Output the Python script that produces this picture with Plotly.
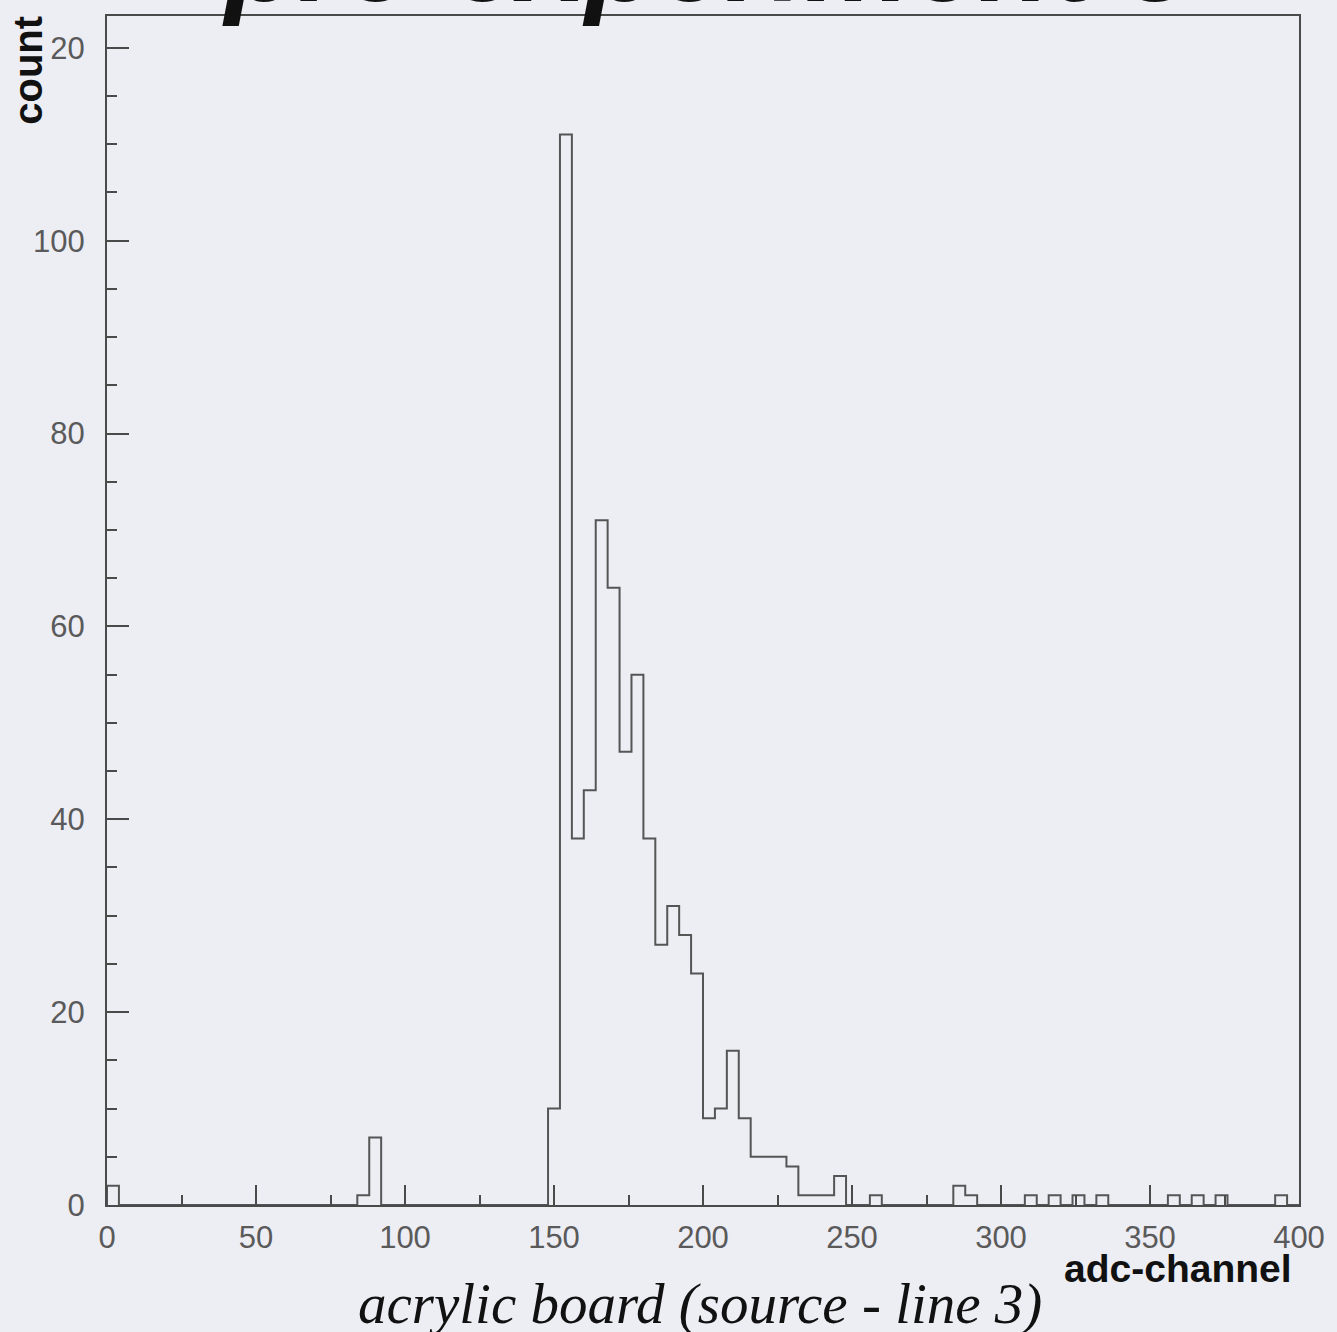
import plotly.graph_objects as go

# ---- data ----
bin_width = 4
x_min, x_max = 0, 400
# left edges of the non-empty bins and their counts
bin_left = [0, 84, 88, 148, 152, 156, 160, 164, 168, 172, 176, 180, 184, 188,
            192, 196, 200, 204, 208, 212, 216, 220, 224, 228, 232, 236, 240,
            244, 256, 284, 288, 308, 316, 324, 332, 356, 364, 372, 392]
bin_count = [2, 1, 7, 10, 111, 38, 43, 71, 64, 47, 55, 38, 27, 31,
             28, 24, 9, 10, 16, 9, 5, 5, 5, 4, 1, 1, 1,
             3, 1, 2, 1, 1, 1, 1, 1, 1, 1, 1, 1]

x_ticks = [0, 50, 100, 150, 200, 250, 300, 350, 400]
y_ticks = [0, 20, 40, 60, 80, 100, 120]

title_text = "pre-experiment 3"
x_title = "adc-channel"
y_title = "count"
caption = "acrylic board (source - line 3)"

# ---- build full histogram outline ----
n_bins = (x_max - x_min) // bin_width
edges = [x_min + i * bin_width for i in range(n_bins)]
lookup = dict(zip(bin_left, bin_count))
counts = [lookup.get(e, 0) for e in edges]
xs = [x_min] + edges + [x_max]
ys = [0] + counts + [0]

BG = "#EDEDF4"
LINE = "#4a4a4a"
TICKFONT = dict(family="Liberation Sans, Arial, sans-serif", size=31, color="#5a5a5a")

fig = go.Figure()
fig.add_trace(go.Scatter(
    x=xs, y=ys, mode="lines", line=dict(shape="hv", color="#555555", width=2),
    hoverinfo="skip", showlegend=False))

W, H = 1337, 1332
L, R, T, B = 107, 26, 16, 127

fig.update_layout(
    width=W, height=H,
    margin=dict(l=L, r=R, t=T, b=B),
    paper_bgcolor=BG, plot_bgcolor=BG,
    showlegend=False,
)
fig.update_xaxes(
    range=[x_min, x_max], tickvals=x_ticks, ticktext=[str(v) for v in x_ticks],
    ticks="inside", ticklen=20, tickwidth=2, tickcolor=LINE,
    minor=dict(dtick=25, tick0=0, ticks="inside", ticklen=10, tickwidth=2, tickcolor=LINE),
    showline=True, linecolor=LINE, linewidth=2, mirror=True,
    showgrid=False, zeroline=False, tickfont=TICKFONT, ticklabelstandoff=4,
    ticklabeloverflow="allow",
)
fig.update_yaxes(
    range=[0, 123.3], tickvals=y_ticks, ticktext=[str(v) for v in y_ticks],
    ticks="inside", ticklen=22, tickwidth=2, tickcolor=LINE,
    minor=dict(dtick=5, tick0=0, ticks="inside", ticklen=10, tickwidth=2, tickcolor=LINE),
    showline=True, linecolor=LINE, linewidth=2, mirror=True,
    showgrid=False, zeroline=False, tickfont=TICKFONT, ticklabelstandoff=14,
)

ph = H - T - B
pw = W - L - R
def py(pix):  # pixel from top -> paper y
    return 1 - (pix - T) / ph
def px(pix):
    return (pix - L) / pw

fig.add_annotation(
    text=y_title, textangle=-90, xref="paper", yref="paper",
    x=px(27), y=py(70), xanchor="center", yanchor="middle", showarrow=False,
    font=dict(family="Liberation Sans, Arial, sans-serif", size=40, color="#111111", weight="bold"),
    bgcolor=BG,
)
fig.add_annotation(
    text=x_title, xref="paper", yref="paper",
    x=px(1306), y=py(1268), xanchor="right", yanchor="middle", showarrow=False,
    font=dict(family="Liberation Sans, Arial, sans-serif", size=39, color="#111111", weight="bold"),
)
fig.add_annotation(
    text=caption, xref="paper", yref="paper",
    x=px(706), y=py(1304), xanchor="center", yanchor="middle", showarrow=False,
    font=dict(family="Liberation Serif, Times New Roman, serif", size=57, color="#111111", style="italic"),
)
fig.add_annotation(
    text=title_text, xref="paper", yref="paper",
    x=px(713), y=py(28), xanchor="center", yanchor="bottom", showarrow=False,
    font=dict(family="Liberation Sans, Arial, sans-serif", size=120, color="#111111",
              weight="bold", style="italic"),
)

fig.write_html("out.html")
